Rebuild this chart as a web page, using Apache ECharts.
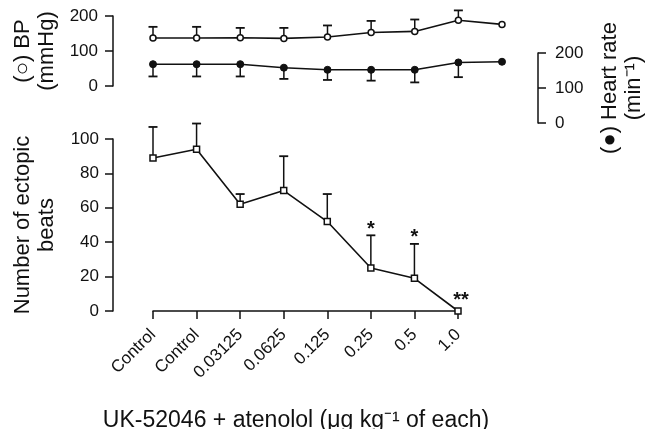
<!DOCTYPE html>
<html>
<head>
<meta charset="utf-8">
<script src="https://cdn.jsdelivr.net/npm/echarts@6/dist/echarts.min.js"></script>
<style>
  html, body { margin: 0; padding: 0; background: #fff; }
  #chart { width: 645px; height: 429px; }
</style>
</head>
<body>
<div id="chart"></div>
<script>
// doses (lower axis) ; top panel has one extra reading after 1.0
const doses = ["Control", "Control", "0.03125", "0.0625", "0.125", "0.25", "0.5", "1.0"];
const topCats = ["Control", "Control", "0.03125", "0.0625", "0.125", "0.25", "0.5", "1.0", ""];

// blood pressure (mmHg), open circles, error bars up
const bpMean = [137, 137, 138, 136, 140, 153, 156, 188, 176];
const bpErr = [32, 32, 28, 30, 33, 33, 34, 28];

// heart rate (min-1), filled circles, error bars down
const hrMean = [168, 168, 168, 158, 152, 152, 152, 173, 175];
const hrErr = [35, 35, 35, 32, 29, 31, 36, 42];

// number of ectopic beats, open squares, error bars up
const ectopic = [89, 94, 62, 70, 52, 25, 19, 0];
const ectopicErr = [18, 15, 6, 20, 16, 19, 20, 0];
const ectopicSig = ["", "", "", "", "", "*", "*", "**"];

const font = "'Liberation Sans', Arial, Helvetica, sans-serif";
const black = "#111";

const chart = echarts.init(document.getElementById("chart"), null, { renderer: "canvas" });

const errData = (mean, err) => err.map((e, i) => [i, mean[i], e]);

// draws a one-sided error bar, dir = 1 up, -1 down
const errBar = (dir, sig) => (params, api) => {
  const i = api.value(0);
  const v = api.value(1);
  const e = api.value(2);
  const p = api.coord([i, v]);
  const q = api.coord([i, v + dir * e]);
  const children = [];
  if (e > 0) {
    children.push({
      type: "line",
      shape: { x1: p[0], y1: p[1], x2: q[0], y2: q[1] },
      style: { stroke: black, lineWidth: 1.5 },
    });
    children.push({
      type: "line",
      shape: { x1: q[0] - 4.5, y1: q[1], x2: q[0] + 4.5, y2: q[1] },
      style: { stroke: black, lineWidth: 1.8 },
    });
  }
  const s = sig ? sig[i] : "";
  if (s) {
    const solo = e === 0;
    children.push({
      type: "text",
      x: solo ? q[0] + 3 : q[0],
      y: solo ? q[1] - 11 : q[1] - 6,
      style: {
        text: s,
        font: "bold 20px " + font,
        fill: black,
        align: "center",
        verticalAlign: "middle",
      },
    });
  }
  return { type: "group", children };
};

const tickLabel = { color: black, fontSize: 17, fontFamily: font };
const nameStyle = { color: black, fontSize: 22, fontFamily: font, lineHeight: 24 };

const option = {
  backgroundColor: "#fff",
  animation: false,
  grid: [
    { left: 153, top: 16, width: 349, height: 70, outerBoundsMode: "none" },
    { left: 153, top: 53, width: 349, height: 70, outerBoundsMode: "none" },
    { left: 153, top: 139, width: 305, height: 172, outerBoundsMode: "none" },
  ],
  xAxis: [
    { type: "category", gridIndex: 0, data: topCats, boundaryGap: false, show: false },
    { type: "category", gridIndex: 1, data: topCats, boundaryGap: false, show: false },
    {
      type: "category",
      gridIndex: 2,
      data: doses,
      boundaryGap: false,
      axisLine: { lineStyle: { color: black, width: 1.5 } },
      axisTick: { length: 8, lineStyle: { color: black, width: 1.5 } },
      axisLabel: { ...tickLabel, rotate: 45, margin: 21, interval: 0 },
      name: "UK-52046 + atenolol (μg kg⁻¹ of each)",
      nameLocation: "middle",
      nameGap: 98,
      nameTextStyle: { ...nameStyle, fontSize: 23, padding: [0, 19, 0, 0] },
    },
  ],
  yAxis: [
    {
      type: "value",
      gridIndex: 0,
      min: 0,
      max: 200,
      interval: 100,
      offset: 40,
      axisLine: { show: true, lineStyle: { color: black, width: 1.5 } },
      axisTick: { show: true, length: 8, lineStyle: { color: black, width: 1.5 } },
      axisLabel: { ...tickLabel, margin: 15 },
      splitLine: { show: false },
      name: "(○) BP\n(mmHg)",
      nameLocation: "middle",
      nameRotate: 90,
      nameGap: 54,
      nameTextStyle: nameStyle,
    },
    {
      type: "value",
      gridIndex: 1,
      position: "right",
      min: 0,
      max: 200,
      interval: 100,
      offset: 36,
      axisLine: { show: true, lineStyle: { color: black, width: 1.5 } },
      axisTick: { show: true, length: 8, lineStyle: { color: black, width: 1.5 } },
      axisLabel: { ...tickLabel, margin: 17 },
      splitLine: { show: false },
      name: "(●) Heart rate\n(min⁻¹)",
      nameLocation: "middle",
      nameRotate: 90,
      nameGap: 60,
      nameTextStyle: nameStyle,
    },
    {
      type: "value",
      gridIndex: 2,
      min: 0,
      max: 100,
      interval: 20,
      offset: 40,
      axisLine: { show: true, lineStyle: { color: black, width: 1.5 } },
      axisTick: { show: true, length: 8, lineStyle: { color: black, width: 1.5 } },
      axisLabel: { ...tickLabel, margin: 14 },
      splitLine: { show: false },
      name: "Number of ectopic\nbeats",
      nameLocation: "middle",
      nameRotate: 90,
      nameGap: 54,
      nameTextStyle: nameStyle,
    },
  ],
  series: [
    {
      name: "BP err",
      type: "custom",
      xAxisIndex: 0,
      yAxisIndex: 0,
      z: 1,
      renderItem: errBar(1),
      data: errData(bpMean, bpErr),
    },
    {
      name: "BP",
      type: "line",
      xAxisIndex: 0,
      yAxisIndex: 0,
      z: 3,
      symbol: "circle",
      symbolSize: 6,
      showAllSymbol: true,
      lineStyle: { color: black, width: 1.6 },
      itemStyle: { color: "#fff", borderColor: black, borderWidth: 1.5 },
      data: bpMean,
    },
    {
      name: "HR err",
      type: "custom",
      xAxisIndex: 1,
      yAxisIndex: 1,
      z: 1,
      renderItem: errBar(-1),
      data: errData(hrMean, hrErr),
    },
    {
      name: "Heart rate",
      type: "line",
      xAxisIndex: 1,
      yAxisIndex: 1,
      z: 3,
      symbol: "circle",
      symbolSize: 7,
      showAllSymbol: true,
      lineStyle: { color: black, width: 1.6 },
      itemStyle: { color: black, borderColor: black, borderWidth: 1 },
      data: hrMean,
    },
    {
      name: "Ectopic err",
      type: "custom",
      xAxisIndex: 2,
      yAxisIndex: 2,
      z: 1,
      clip: false,
      renderItem: errBar(1, ectopicSig),
      data: errData(ectopic, ectopicErr),
    },
    {
      name: "Ectopic beats",
      type: "line",
      xAxisIndex: 2,
      yAxisIndex: 2,
      z: 3,
      symbol: "rect",
      symbolSize: 6,
      showAllSymbol: true,
      lineStyle: { color: black, width: 1.6 },
      itemStyle: { color: "#fff", borderColor: black, borderWidth: 1.5 },
      data: ectopic,
    },
  ],
};

chart.setOption(option);
</script>
</body>
</html>
